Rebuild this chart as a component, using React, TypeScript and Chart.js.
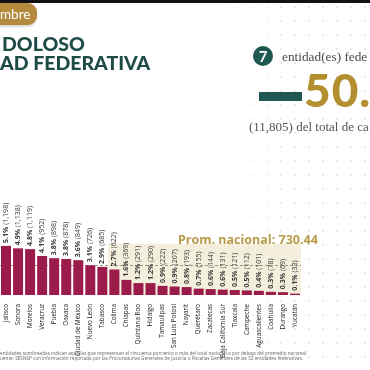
import { useEffect, useRef } from "react";
import { Chart, registerables } from "chart.js";

Chart.register(...registerables);

const states = [
  "Jalisco", "Sonora", "Morelos", "Veracruz", "Puebla", "Oaxaca", "Ciudad de México",
  "Nuevo León", "Tabasco", "Colima", "Chiapas", "Quintana Roo", "Hidalgo", "Tamaulipas",
  "San Luis Potosí", "Nayarit", "Querétaro", "Zacatecas", "Baja California Sur", "Tlaxcala",
  "Campeche", "Aguascalientes", "Coahuila", "Durango", "Yucatán",
];
const cases = [
  1198, 1138, 1119, 952, 898, 878, 849, 726, 685, 622, 369, 291, 290, 222, 207, 193, 155,
  144, 131, 121, 112, 101, 78, 69, 33,
];
const shares = [
  "5.1%", "4.9%", "4.8%", "4.1%", "3.8%", "3.8%", "3.6%", "3.1%", "2.9%", "2.7%", "1.6%",
  "1.2%", "1.2%", "0.9%", "0.9%", "0.8%", "0.7%", "0.6%", "0.6%", "0.5%", "0.5%", "0.4%",
  "0.3%", "0.3%", "0.1%",
];
const nationalAverage = 730.44;
const yMax = 3000;
const shadeFromIndex = 9;
const shadeTopValue = 1250;

const annotate = {
  id: "annotate",
  beforeDatasetsDraw(chart: any) {
    const { ctx, chartArea, scales } = chart;
    const x = scales.x;
    const y = scales.y;
    const half = (x.getPixelForValue(1) - x.getPixelForValue(0)) / 2;
    const left = x.getPixelForValue(shadeFromIndex) - half;
    const top = y.getPixelForValue(shadeTopValue);
    const base = y.getPixelForValue(0);
    ctx.save();
    ctx.fillStyle = "#f3efdc";
    ctx.fillRect(left, top, chartArea.right - left, base - top);
    const ay = Math.round(y.getPixelForValue(nationalAverage)) + 0.5;
    ctx.setLineDash([3, 2]);
    ctx.strokeStyle = "#9a9a80";
    ctx.lineWidth = 1;
    ctx.beginPath();
    ctx.moveTo(chartArea.left, ay);
    ctx.lineTo(chartArea.right, ay);
    ctx.stroke();
    ctx.restore();
  },
  afterDatasetsDraw(chart: any) {
    const { ctx } = chart;
    const meta = chart.getDatasetMeta(0);
    ctx.save();
    meta.data.forEach((el: any, i: number) => {
      ctx.save();
      ctx.translate(el.x, el.y - 3);
      ctx.rotate(-Math.PI / 2);
      ctx.textAlign = "left";
      ctx.textBaseline = "middle";
      ctx.fillStyle = "#3a3a3a";
      ctx.font = "bold 7px 'Open Sans'";
      const p = shares[i];
      ctx.fillText(p, 0, 0);
      const w = ctx.measureText(p).width;
      ctx.font = "7px 'Open Sans'";
      ctx.fillText(" (" + cases[i].toLocaleString("en-US") + ")", w, 0);
      ctx.restore();
    });
    ctx.restore();
  },
};

export default function App() {
  const ref = useRef<HTMLCanvasElement>(null);
  useEffect(() => {
    document.body.style.margin = "0";
    const chart = new Chart(ref.current as HTMLCanvasElement, {
      type: "bar",
      data: {
        labels: states,
        datasets: [
          {
            data: cases,
            backgroundColor: "#9b1b4b",
            barPercentage: 0.83,
            categoryPercentage: 1,
          },
        ],
      },
      options: {
        animation: false,
        responsive: false,
        maintainAspectRatio: false,
        layout: { padding: { left: 0, right: 69, top: 172, bottom: 0 } },
        plugins: { legend: { display: false }, tooltip: { enabled: false } },
        scales: {
          x: {
            grid: { display: false },
            border: { display: false },
            afterFit: (s: any) => {
              s.height = 75;
            },
            ticks: {
              autoSkip: false,
              maxRotation: 90,
              minRotation: 90,
              padding: 1,
              color: "#222",
              font: { size: 6.3, family: "'Open Sans'", weight: "normal" },
            },
          },
          y: { display: false, min: 0, max: yMax },
        },
      },
      plugins: [annotate],
    });
    return () => chart.destroy();
  }, []);

  const abs = (s: any) => ({ position: "absolute" as const, whiteSpace: "nowrap" as const, ...s });

  return (
    <div style={{ position: "relative", width: 370, height: 370, overflow: "hidden", background: "#fff", fontFamily: "'Open Sans'" }}>
      <div
        style={abs({
          left: 190, top: 0, width: 180, height: 370,
          backgroundImage: "radial-gradient(circle, #ebebeb 0.8px, transparent 1.1px)",
          backgroundSize: "14px 14px",
          WebkitMaskImage: "linear-gradient(to right, transparent, #000 60%)",
          maskImage: "linear-gradient(to right, transparent, #000 60%)",
        })}
      />
      <canvas ref={ref} width={370} height={370} style={abs({ left: 0, top: 0 })} />
      <div style={abs({ left: 0, top: 0, width: 370, height: 3, background: "#111" })} />
      <div style={abs({ left: -20, top: 3, width: 57, height: 22, background: "#b68a3e", borderRadius: 9, boxShadow: "0 2px 2px rgba(0,0,0,0.15)" })} />
      <div style={abs({ left: 0, top: 4, fontSize: 13.5, lineHeight: "20px", color: "#fff", fontFamily: "Lato" })}>mbre</div>
      <div style={abs({ left: 2, top: 34, fontSize: 19.5, lineHeight: "20px", fontWeight: 900, color: "#1e4b45", fontFamily: "Lato" })}>DOLOSO</div>
      <div style={abs({ left: 0, top: 53, fontSize: 19.5, lineHeight: "20px", fontWeight: 900, color: "#1e4b45", fontFamily: "Lato" })}>AD FEDERATIVA</div>
      <div style={abs({ left: 253, top: 46, width: 20, height: 20, borderRadius: 10, background: "#1f5753", color: "#fff", fontWeight: 700, fontSize: 15, lineHeight: "20px", textAlign: "center", fontFamily: "Lato" })}>7</div>
      <div style={abs({ left: 282, top: 47, fontSize: 13.3, lineHeight: "20px", color: "#4a4a4a", fontFamily: "'Liberation Serif'" })}>entidad(es) fede</div>
      <div style={abs({ left: 259, top: 92, width: 43, height: 9, background: "#1f5753" })} />
      <div style={abs({ left: 304, top: 65, fontSize: 46, lineHeight: "50px", fontWeight: 900, color: "#b38f2f", fontFamily: "Lato", letterSpacing: 1 })}>50.</div>
      <div style={abs({ left: 249, top: 119, fontSize: 13, lineHeight: "16px", color: "#555", fontFamily: "'Liberation Serif'" })}>(11,805) del total de ca</div>
      <div style={abs({ left: 178, top: 232, fontSize: 12.5, lineHeight: "15px", fontWeight: 700, color: "#b99a4a" })}>Prom. nacional: 730.44</div>
      <div style={abs({ left: 0, top: 351, fontSize: 4.7, lineHeight: "5px", color: "#666" })}>
        entidades sombreadas indican aquellas que representan el cincuenta porciento o más del total nacional o por debajo del promedio nacional.
      </div>
      <div style={abs({ left: 0, top: 356, fontSize: 4.7, lineHeight: "5px", color: "#666" })}>
        uente: SESNSP con información reportada por las Procuradurías Generales de Justicia o Fiscalías Generales de las 32 entidades federativas.
      </div>
    </div>
  );
}
